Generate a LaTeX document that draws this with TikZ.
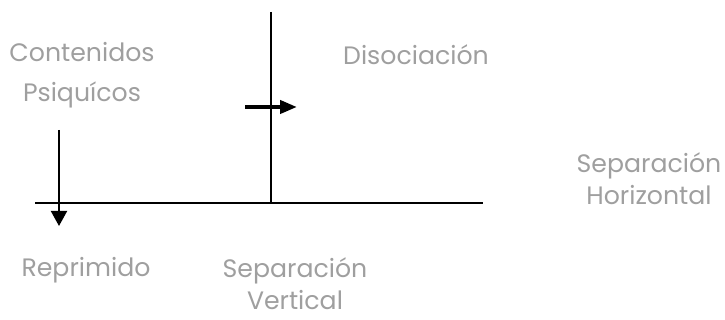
\documentclass[tikz,border=0pt]{standalone}
\usepackage{fontspec}
\setmainfont{Poppins}
\usetikzlibrary{positioning,arrows.meta}

\begin{document}
\begin{tikzpicture}[x=0.5pt,y=0.5pt,
    lbl/.style={text=gray!75, font=\fontsize{12.6}{16}\selectfont, align=center, inner sep=0pt},
    flecha/.style={-{Triangle[length=7.5pt,width=8pt]}, line width=1pt}]
    \useasboundingbox (0,0) rectangle (725,320);
    % ejes
    \coordinate (hizq) at (35,117);
    \coordinate (hder) at (483,117);
    \coordinate (vsup) at (271,308);
    \coordinate (vinf) at (271,117);
    \draw[line width=1.3pt] (hizq) -- (hder);
    \draw[line width=1pt] (vsup) -- (vinf);
    % flechas
    \coordinate (rini) at (59,190);
    \coordinate (rfin) at (59,94);
    \draw[flecha] (rini) -- (rfin);
    \coordinate (dini) at (245,213);
    \coordinate (dfin) at (297,213);
    \draw[-{Triangle[length=8.5pt,width=6.5pt]}, line width=2pt] (dini) -- (dfin);
    % textos
    \node[lbl] (contenidos) at (82,245) {Contenidos\\[4pt]Psiquícos};
    \node[lbl] (disociacion) at (416,265) {Disociación};
    \node[lbl] (reprimido) at (86,50) {Reprimido};
    \node[lbl] (sepvert) at (295,36) {Separación\\Vertical};
    \node[lbl] (sephor) at (649,141) {Separación\\Horizontal};
\end{tikzpicture}
\end{document}
